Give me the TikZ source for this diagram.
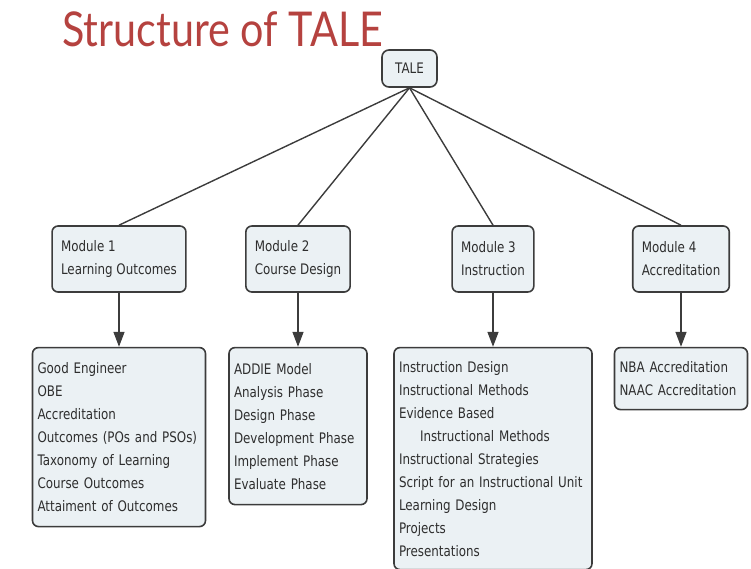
\documentclass[tikz,border=0pt]{standalone}
\usepackage{fontspec}
\usepackage{tikz}
\usetikzlibrary{positioning, arrows.meta}
\newfontfamily\boxfont[FakeStretch=0.82]{DejaVu Sans}
\newfontfamily\titlefont[FakeStretch=0.86]{Lato}
\definecolor{titlered}{HTML}{B5423F}
\definecolor{boxfill}{HTML}{EBF1F4}
\definecolor{boxline}{HTML}{3C3C3C}
\definecolor{boxtext}{HTML}{2E2E2E}

\begin{document}
\begin{tikzpicture}[x=1pt, y=1pt,
    title/.style={font=\titlefont\fontsize{48}{54}\selectfont, text=titlered, inner sep=0pt},
    root/.style={rectangle, draw=boxline, fill=boxfill, rounded corners=7pt, line width=1.6pt, minimum width=55pt, minimum height=37pt, text=boxtext, font=\boxfont\fontsize{14.5}{16}\selectfont},
    module/.style={rectangle, draw=boxline, fill=boxfill, rounded corners=6pt, line width=1.6pt, minimum height=66pt, inner xsep=9pt, align=left, text=boxtext, font=\boxfont\fontsize{14.5}{23}\selectfont},
    topics/.style={rectangle, draw=boxline, fill=boxfill, rounded corners=6pt, line width=1.6pt, inner xsep=5pt, align=left, text=boxtext, font=\boxfont\fontsize{14.5}{23}\selectfont},
    link/.style={draw=boxline, line width=1.4pt},
    arr/.style={-{Triangle[length=15pt, width=11pt]}, draw=boxline, line width=1.4pt},
  ]
    \useasboundingbox (0,0) rectangle (751,-569);

    \node[title, anchor=base west] (head) at (62,-47) {Structure of TALE};
    \node[root] (tale) at (409.5,-68.5) {TALE};

    \node[module] (m1) at (119,-259) {Module 1\\Learning Outcomes};
    \node[module] (m2) at (298,-259) {Module 2\\Course Design};
    \node[module] (m3) at (493,-259) {Module 3\\Instruction};
    \node[module] (m4) at (681,-259) {Module 4\\Accreditation};

    \node[topics, below=54pt of m1, text width=163pt, minimum height=179pt] (t1) {Good Engineer\\OBE\\Accreditation\\Outcomes (POs and PSOs)\\Taxonomy of Learning\\Course Outcomes\\Attaiment of Outcomes};
    \node[topics, below=54pt of m2, text width=128pt, minimum height=157pt] (t2) {ADDIE Model\\Analysis Phase\\Design Phase\\Development Phase\\Implement Phase\\Evaluate Phase};
    \node[topics, below=54pt of m3, text width=188pt, minimum height=222pt] (t3) {Instruction Design\\Instructional Methods\\Evidence Based\\\hspace*{21pt}Instructional Methods\\Instructional Strategies\\Script for an Instructional Unit\\Learning Design\\Projects\\Presentations};
    \node[topics, below=54pt of m4, text width=123pt, minimum height=62pt] (t4) {NBA Accreditation\\NAAC Accreditation};

    \draw[link] (tale.south) -- (m1.north);
    \draw[link] (tale.south) -- (m2.north);
    \draw[link] (tale.south) -- (m3.north);
    \draw[link] (tale.south) -- (m4.north);

    \draw[arr] (m1) -- (t1);
    \draw[arr] (m2) -- (t2);
    \draw[arr] (m3) -- (t3);
    \draw[arr] (m4) -- (t4);
  \end{tikzpicture}
\end{document}
